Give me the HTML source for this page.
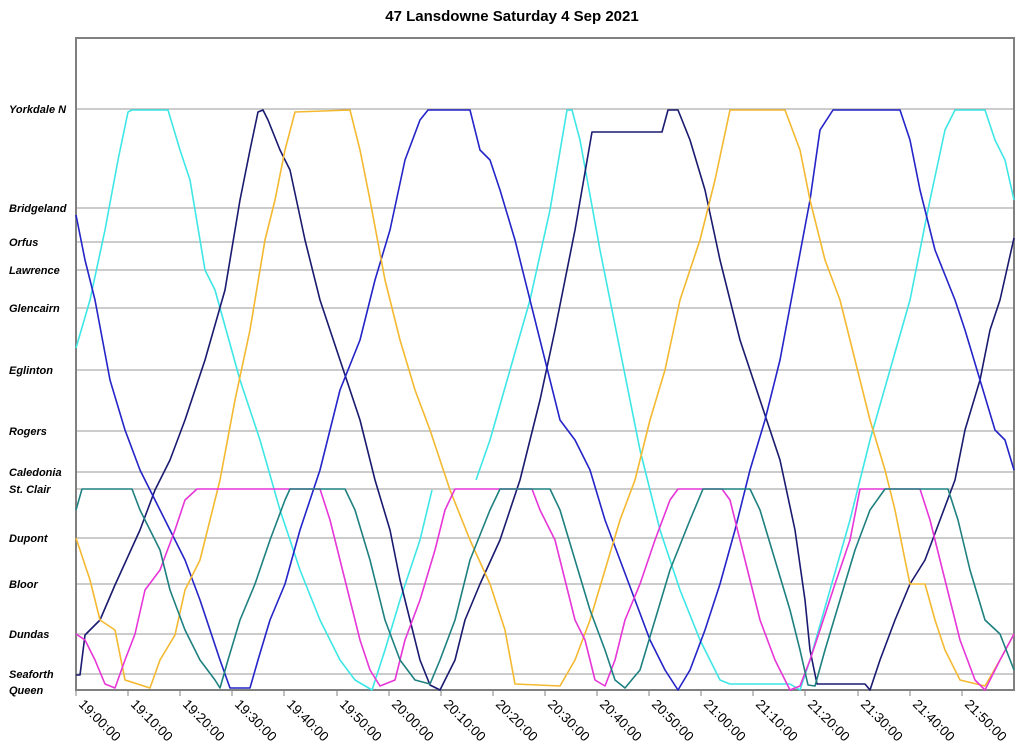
<!DOCTYPE html>
<html><head><meta charset="utf-8"><style>
body{margin:0;background:#fff}
svg text{font-family:"Liberation Sans",Arial,sans-serif}
</style></head><body>
<svg width="1024" height="751" viewBox="0 0 1024 751" xmlns="http://www.w3.org/2000/svg">
<rect width="1024" height="751" fill="#fff"/>
<text x="512" y="21" text-anchor="middle" font-size="15" font-weight="bold">47 Lansdowne Saturday 4 Sep 2021</text>
<g stroke="#9a9a9a" stroke-width="1">
<line x1="76" x2="1014" y1="109" y2="109"/><line x1="76" x2="1014" y1="208" y2="208"/>
<line x1="76" x2="1014" y1="242" y2="242"/><line x1="76" x2="1014" y1="270" y2="270"/>
<line x1="76" x2="1014" y1="308" y2="308"/><line x1="76" x2="1014" y1="370" y2="370"/>
<line x1="76" x2="1014" y1="431" y2="431"/><line x1="76" x2="1014" y1="472" y2="472"/>
<line x1="76" x2="1014" y1="489" y2="489"/><line x1="76" x2="1014" y1="538" y2="538"/>
<line x1="76" x2="1014" y1="584" y2="584"/><line x1="76" x2="1014" y1="634" y2="634"/>
<line x1="76" x2="1014" y1="674" y2="674"/>
</g>
<rect x="76" y="38" width="938" height="652" fill="none" stroke="#808080" stroke-width="2"/>
<g font-size="11" font-weight="bold" font-style="italic" fill="#000">
<text x="9" y="113">Yorkdale N</text><text x="9" y="212">Bridgeland</text>
<text x="9" y="246">Orfus</text><text x="9" y="274">Lawrence</text>
<text x="9" y="312">Glencairn</text><text x="9" y="374">Eglinton</text>
<text x="9" y="435">Rogers</text><text x="9" y="476">Caledonia</text>
<text x="9" y="493">St. Clair</text><text x="9" y="542">Dupont</text>
<text x="9" y="588">Bloor</text><text x="9" y="638">Dundas</text>
<text x="9" y="678">Seaforth</text><text x="9" y="694">Queen</text>
</g>
<g stroke="#808080" stroke-width="1">
<line x1="76" x2="76" y1="690" y2="696"/><line x1="128" x2="128" y1="690" y2="696"/>
<line x1="180" x2="180" y1="690" y2="696"/><line x1="232" x2="232" y1="690" y2="696"/>
<line x1="284" x2="284" y1="690" y2="696"/><line x1="337" x2="337" y1="690" y2="696"/>
<line x1="389" x2="389" y1="690" y2="696"/><line x1="441" x2="441" y1="690" y2="696"/>
<line x1="493" x2="493" y1="690" y2="696"/><line x1="545" x2="545" y1="690" y2="696"/>
<line x1="597" x2="597" y1="690" y2="696"/><line x1="649" x2="649" y1="690" y2="696"/>
<line x1="701" x2="701" y1="690" y2="696"/><line x1="753" x2="753" y1="690" y2="696"/>
<line x1="805" x2="805" y1="690" y2="696"/><line x1="858" x2="858" y1="690" y2="696"/>
<line x1="910" x2="910" y1="690" y2="696"/><line x1="962" x2="962" y1="690" y2="696"/>
</g>
<g font-size="13.5" fill="#000">
<text transform="translate(78,705) rotate(45)">19:00:00</text>
<text transform="translate(130,705) rotate(45)">19:10:00</text>
<text transform="translate(182,705) rotate(45)">19:20:00</text>
<text transform="translate(234,705) rotate(45)">19:30:00</text>
<text transform="translate(286,705) rotate(45)">19:40:00</text>
<text transform="translate(339,705) rotate(45)">19:50:00</text>
<text transform="translate(391,705) rotate(45)">20:00:00</text>
<text transform="translate(443,705) rotate(45)">20:10:00</text>
<text transform="translate(495,705) rotate(45)">20:20:00</text>
<text transform="translate(547,705) rotate(45)">20:30:00</text>
<text transform="translate(599,705) rotate(45)">20:40:00</text>
<text transform="translate(651,705) rotate(45)">20:50:00</text>
<text transform="translate(703,705) rotate(45)">21:00:00</text>
<text transform="translate(755,705) rotate(45)">21:10:00</text>
<text transform="translate(807,705) rotate(45)">21:20:00</text>
<text transform="translate(860,705) rotate(45)">21:30:00</text>
<text transform="translate(912,705) rotate(45)">21:40:00</text>
<text transform="translate(964,705) rotate(45)">21:50:00</text>
</g>
<g fill="none" stroke-width="1.6" stroke-linejoin="round">
<polyline stroke="#3ee6e6" points="76,348 90,300 105,230 118,160 128,112 132,110 168,110 180,150 190,180 205,270 215,290 240,380 260,440 280,510 300,570 320,620 340,660 355,680 372,690 385,650 400,600 420,540 432,490"/>
<polyline stroke="#3ee6e6" points="476,480 490,440 510,370 530,300 550,210 567,110 572,110 580,140 600,250 620,350 640,450 660,530 680,590 700,640 720,680 730,684 790,684 800,690 810,660 830,590 850,520 870,440 890,370 910,300 930,200 945,130 955,110 985,110 995,140 1005,160 1014,200"/>
<polyline stroke="#1a1a70" points="76,675 80,675 85,635 100,620 115,585 140,530 155,490 170,460 185,420 205,360 225,290 240,200 250,150 258,112 263,110 268,120 280,150 290,170 305,240 320,300 340,360 360,420 375,480 390,530 400,580 410,620 420,660 430,685 440,690 455,660 465,620 480,584 500,540 520,480 540,400 555,330 575,230 592,132 662,132 668,110 678,110 690,140 705,190 720,260 740,340 760,400 780,460 795,530 805,600 810,650 817,684 865,684 870,690 880,660 895,620 910,584 925,560 940,520 955,480 965,430 980,380 990,330 1000,300 1014,238"/>
<polyline stroke="#2424c8" points="76,215 85,260 95,300 110,380 125,430 140,470 155,500 170,530 185,560 200,600 210,630 220,660 230,688 250,688 258,660 270,620 285,584 300,530 320,470 340,390 360,340 375,280 390,230 405,160 420,120 428,110 470,110 480,150 490,160 500,190 515,240 530,300 545,360 560,420 575,440 590,470 605,520 620,560 635,600 650,640 665,670 678,690 690,670 705,630 720,584 735,530 750,470 765,420 780,360 795,280 810,200 820,130 833,110 900,110 910,140 920,190 935,250 955,300 965,330 980,380 995,430 1005,440 1014,470"/>
<polyline stroke="#f4b930" points="76,538 90,580 100,620 115,630 125,680 150,688 160,660 175,635 185,590 200,560 220,480 235,400 250,330 265,240 275,200 285,150 295,112 350,110 360,150 370,200 385,280 400,340 415,390 430,430 450,490 470,540 490,584 505,630 515,684 560,686 575,660 590,620 605,570 620,520 635,480 650,420 665,370 680,300 700,240 715,180 730,110 785,110 800,150 810,200 825,260 840,300 855,360 870,420 885,470 895,510 905,560 910,584 925,584 935,620 945,650 960,680 985,686 1000,660 1014,634"/>
<polyline stroke="#e636d8" points="76,634 85,640 95,660 105,684 115,688 125,660 135,634 145,590 160,570 175,530 185,500 197,489 320,489 330,520 340,560 350,600 360,640 370,670 380,686 395,680 405,640 420,600 435,550 445,510 455,489 532,489 540,510 555,540 565,580 575,620 585,640 595,680 605,686 615,660 625,620 640,584 655,540 670,500 678,489 722,489 730,500 745,560 760,620 775,660 790,690 800,686 810,660 820,630 835,584 850,540 860,489 920,489 930,520 940,560 950,600 960,640 975,680 985,690 1000,660 1014,634"/>
<polyline stroke="#1f8080" points="76,510 82,489 132,489 140,510 150,530 160,550 170,590 185,630 200,660 215,680 220,688 228,660 240,620 255,584 270,540 285,500 290,489 345,489 355,510 370,560 385,620 400,660 415,680 430,684 440,660 455,620 470,560 490,510 500,489 550,489 560,510 575,560 590,610 605,650 615,680 625,688 640,670 655,620 670,570 690,520 703,489 750,489 760,510 775,560 790,610 800,650 808,685 815,686 825,650 840,600 855,550 870,510 885,489 948,489 958,520 970,570 985,620 1000,634 1014,670"/>
</g>
</svg>
</body></html>
